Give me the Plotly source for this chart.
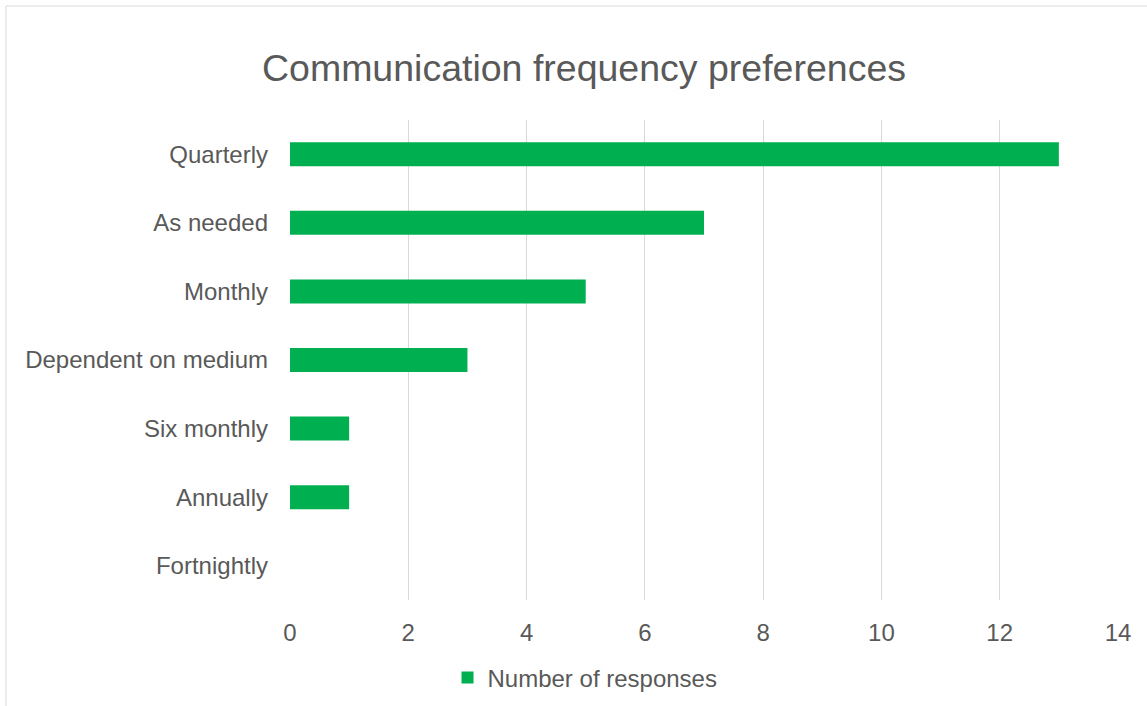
import plotly.graph_objects as go

categories = ["Fortnightly", "Annually", "Six monthly", "Dependent on medium", "Monthly", "As needed", "Quarterly"]
responses = [0, 1, 1, 3, 5, 7, 13]
x_ticks = [0, 2, 4, 6, 8, 10, 12, 14]

W, H = 1147, 706
L, R, T, B = 290, 29, 120, 106
pw, ph = W - L - R, H - T - B

FONT = "Liberation Sans, Arial, sans-serif"
font_col = "#595959"

fig = go.Figure()
fig.add_trace(go.Bar(
    y=categories, x=responses, orientation="h",
    marker=dict(color="#00B050", line=dict(width=0)),
    width=0.35, name="Number of responses", showlegend=True,
))

def px_x(p):
    return (p - L) / pw

def px_y(p):
    return (H - B - p) / ph

fig.update_layout(
    width=W, height=H,
    margin=dict(l=L, r=R, t=T, b=B, autoexpand=False),
    paper_bgcolor="white", plot_bgcolor="white",
    font=dict(family=FONT, size=24, color=font_col),
    title=dict(text="Communication frequency preferences", x=584 / W, xanchor="center",
               y=1 - 68 / H, yanchor="middle",
               font=dict(size=37.5, color=font_col, family=FONT)),
    xaxis=dict(range=[0, 14], tickvals=x_ticks, showgrid=True, gridcolor="#D9D9D9", gridwidth=1,
               zeroline=False, showline=False, ticklabelstandoff=16,
               tickfont=dict(size=24, color=font_col)),
    yaxis=dict(categoryorder="array", categoryarray=categories, showgrid=False, zeroline=False,
               showline=False, ticklabelstandoff=21, tickfont=dict(size=24, color=font_col)),
    showlegend=True,
    legend=dict(orientation="h", x=px_x(585), xanchor="center",
                y=px_y(678), yanchor="middle",
                font=dict(size=24, color=font_col), itemwidth=30),
    shapes=[
        dict(type="line", xref="paper", yref="paper", x0=px_x(6), x1=px_x(W + 20),
             y0=px_y(6), y1=px_y(6), line=dict(color="#D9D9D9", width=1), layer="below"),
        dict(type="line", xref="paper", yref="paper", x0=px_x(6), x1=px_x(6),
             y0=px_y(6), y1=px_y(H + 20), line=dict(color="#D9D9D9", width=1), layer="below"),
    ],
)

fig.write_html("out.html", config={"displayModeBar": False},
               post_script="document.body.style.margin='0';document.body.style.overflow='hidden';")
